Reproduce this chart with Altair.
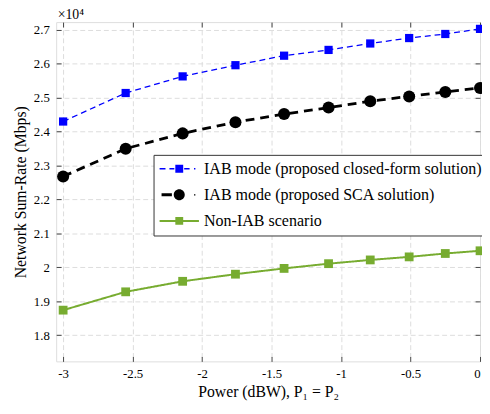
import altair as alt
import pandas as pd

# ---- data ----
power_dbw = [-3.0, -2.55, -2.14, -1.76, -1.41, -1.09, -0.79, -0.51, -0.25, 0.0]
iab_closed_form = [24300, 25140, 25630, 25960, 26240, 26410, 26600, 26760, 26880, 27030]
iab_sca = [22680, 23500, 23950, 24280, 24520, 24710, 24900, 25040, 25170, 25290]
non_iab = [18740, 19280, 19590, 19800, 19970, 20110, 20220, 20310, 20410, 20490]

series_names = [
    "IAB mode (proposed closed-form solution)",
    "IAB mode (proposed SCA solution)",
    "Non-IAB scenario",
]
series_values = [iab_closed_form, iab_sca, non_iab]
series_colors = ["#0000ff", "#000000", "#77ac30"]

x_ticks = [-3, -2.5, -2, -1.5, -1, -0.5, 0]
y_ticks = [18000, 19000, 20000, 21000, 22000, 23000, 24000, 25000, 26000, 27000]

rows = []
for name, vals in zip(series_names, series_values):
    for x, v in zip(power_dbw, vals):
        rows.append({"power": x, "rate": v, "series": name})
df = pd.DataFrame(rows)

FONT = "Liberation Serif"
xs = alt.Scale(domain=[-3.05, 0], nice=False, zero=False)
ys = alt.Scale(domain=[17230, 27230], nice=False, zero=False)

TICK_COL = "#444444"
GRID_COL = "#dcdcdc"

x_bottom = alt.Axis(
    orient="bottom", values=x_ticks, labelExpr="toString(datum.value)",
    offset=-5, tickSize=5, tickColor=TICK_COL, domain=False,
    grid=True, gridDash=[5, 3], gridColor=GRID_COL,
    labelPadding=6, labelFont=FONT, labelFontSize=13, labelColor="#000",
    title="Power (dBW),  P₁ = P₂", titleFont=FONT, titleFontSize=16,
    titleFontWeight="normal", titleColor="#000", titleY=41, titleBaseline="alphabetic",
)
y_left = alt.Axis(
    orient="left", values=y_ticks, labelExpr="toString(datum.value / 10000)",
    offset=-5, tickSize=5, tickColor=TICK_COL, domain=False,
    grid=True, gridDash=[5, 3], gridColor=GRID_COL,
    labelPadding=7, labelFont=FONT, labelFontSize=13, labelColor="#000",
    title="Network Sum-Rate (Mbps)", titleFont=FONT, titleFontSize=16,
    titleFontWeight="normal", titleColor="#000", titleX=-41, titleBaseline="middle",
)
x_top = alt.Axis(
    orient="top", values=x_ticks, labels=False, offset=-5, tickSize=5,
    tickColor=TICK_COL, domain=False, grid=False,
    title="×10⁴", titleFont=FONT, titleFontSize=14, titleFontWeight="normal",
    titleColor="#000", titleX=1, titleY=-9, titleAlign="left", titleAnchor="start",
    titleBaseline="alphabetic",
)
y_right = alt.Axis(
    orient="right", values=y_ticks, labels=False, offset=-5, tickSize=5,
    tickColor=TICK_COL, domain=False, grid=False, title=None,
)

U = 8.0  # pixels per legend-path unit (symbolSize = (2*U)^2)


def rect(x0, x1, h):
    return f"M{x0/U:.3f},{-h/U:.3f}H{x1/U:.3f}V{h/U:.3f}H{x0/U:.3f}Z"


def circle(r):
    r = r / U
    return f"M{-r:.3f},0A{r:.3f},{r:.3f},0,1,1,{r:.3f},0A{r:.3f},{r:.3f},0,1,1,{-r:.3f},0Z"


legend_paths = [
    rect(-20, -14, 0.7) + rect(-10, -5, 0.7) + rect(-4, 4, 4)
    + rect(5, 10.5, 0.7) + rect(15, 16.4, 0.7),
    rect(-18, -7.5, 1.5) + circle(5.6) + rect(15, 16.4, 0.7),
    rect(-20, -3.5, 1.0) + rect(-4, 4, 4) + rect(3.5, 20, 1.0),
]

line_styles = [
    dict(strokeWidth=1.3, strokeDash=[6, 4]),
    dict(strokeWidth=2.8, strokeDash=[9, 6]),
    dict(strokeWidth=2.0, strokeDash=[1, 0]),
]
point_styles = [
    dict(shape="square", size=70),
    dict(shape="circle", size=150),
    dict(shape="square", size=80),
]

layers = []
for i, name in enumerate(series_names):
    base = alt.Chart(df).transform_filter(alt.datum.series == name)
    first = i == 0
    line = base.mark_line(color=series_colors[i], **line_styles[i]).encode(
        x=alt.X("power:Q", scale=xs, axis=x_bottom if first else None),
        y=alt.Y("rate:Q", scale=ys, axis=y_left if first else None),
    )
    pts = base.mark_point(filled=True, opacity=1, color=series_colors[i], **point_styles[i]).encode(
        x=alt.X("power:Q", scale=xs, axis=None),
        y=alt.Y("rate:Q", scale=ys, axis=None),
    )
    layers += [line, pts]

legend_props = dict(
    orient="none", legendX=99, legendY=135, title=None,
    labelFont=FONT, labelFontSize=16.3, labelColor="#000", labelLimit=500,
    symbolSize=(2 * U) ** 2, symbolStrokeWidth=0, symbolOpacity=1,
    symbolOffset=20 - U, labelOffset=17,
    padding=6, rowPadding=9.5,
    fillColor="white", strokeColor="#333333",
)

legend_layer = alt.Chart(df).transform_filter("false").mark_point(filled=True, opacity=1).encode(
    x=alt.X("power:Q", scale=xs, axis=x_top),
    y=alt.Y("rate:Q", scale=ys, axis=y_right),
    color=alt.Color("series:N", scale=alt.Scale(domain=series_names, range=series_colors),
                    legend=alt.Legend(**legend_props)),
    shape=alt.Shape("series:N", scale=alt.Scale(domain=series_names, range=legend_paths),
                    legend=alt.Legend(**legend_props)),
)

chart = (
    alt.layer(*layers, legend_layer)
    .resolve_axis(x="independent", y="independent")
    .properties(
        width=431, height=345,
        autosize=alt.AutoSizeParams(type="none"),
        padding={"left": 49, "top": 11, "right": 2, "bottom": 40},
    )
    .configure_view(stroke="#444444", strokeWidth=1)
    .configure(background="white")
)

chart.save("out.html", embed_options={"renderer": "svg", "actions": False})
